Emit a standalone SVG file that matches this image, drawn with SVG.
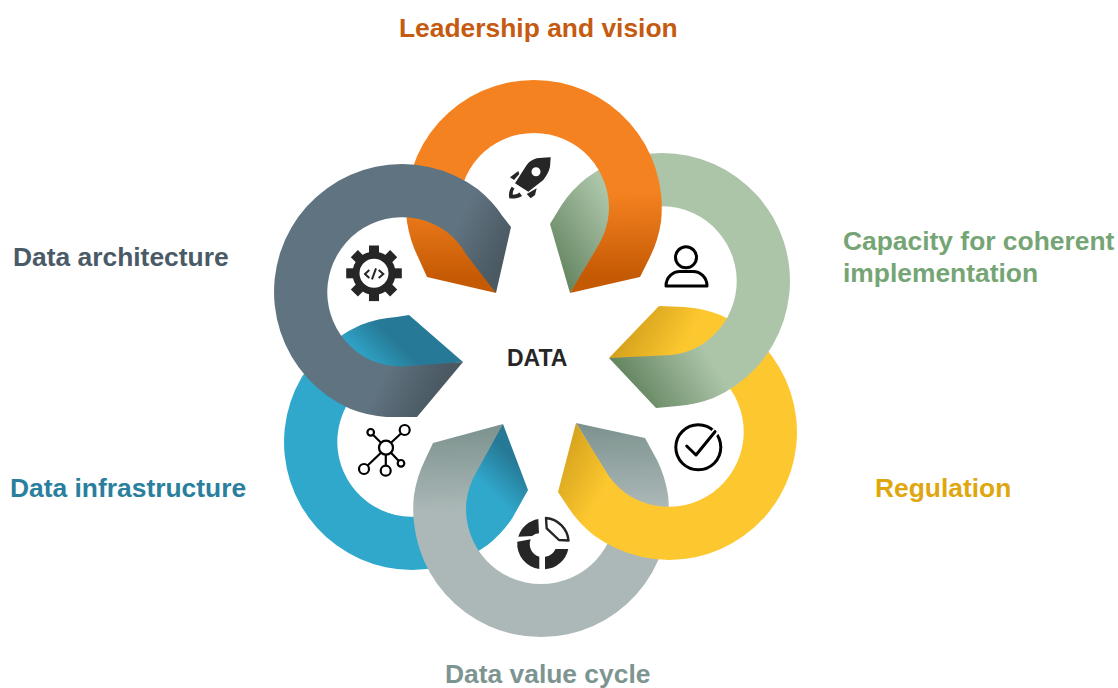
<svg xmlns="http://www.w3.org/2000/svg" width="1118" height="688" viewBox="0 0 1118 688">
<style>
text{font-family:"Liberation Sans",Arial,sans-serif;font-weight:700;font-size:26.4px}
.dk{fill:#262626}
.ln{fill:none;stroke:#000;stroke-width:2.2}
.ln2{fill:none;stroke:#000;stroke-width:3;stroke-linecap:round;stroke-linejoin:round}
</style>
<defs>
<linearGradient id="gO" gradientUnits="userSpaceOnUse" x1="534" y1="193" x2="535" y2="277"><stop offset="0" stop-color="#F58220"/><stop offset="1" stop-color="#C55A04"/></linearGradient>
<linearGradient id="gG" gradientUnits="userSpaceOnUse" x1="662" y1="281" x2="590" y2="326"><stop offset="0" stop-color="#ACC5A9"/><stop offset="1" stop-color="#648560"/></linearGradient>
<linearGradient id="gY" gradientUnits="userSpaceOnUse" x1="644.5" y1="418.5" x2="594.6" y2="391"><stop offset="0" stop-color="#FDC82F"/><stop offset="1" stop-color="#D6A31E"/></linearGradient>
<linearGradient id="gA" gradientUnits="userSpaceOnUse" x1="541" y1="509" x2="539" y2="424"><stop offset="0" stop-color="#ABB8B7"/><stop offset="1" stop-color="#7C928E"/></linearGradient>
<linearGradient id="gB" gradientUnits="userSpaceOnUse" x1="426" y1="428" x2="454" y2="400"><stop offset="0" stop-color="#30A8CC"/><stop offset="1" stop-color="#277A97"/></linearGradient>
<linearGradient id="gS" gradientUnits="userSpaceOnUse" x1="420" y1="301" x2="469.2" y2="325.4"><stop offset="0" stop-color="#607380"/><stop offset="1" stop-color="#4A5962"/></linearGradient>
</defs>
<g id="connectors"></g>
<g id="node-infrastructure">
<path fill="url(#gB)" d="M503,424 L528,490 L512.4,518 Q502.6,532.9 487.6,545 A127.8,127.8 0 1 1 360.6,325 Q378.6,318.1 396.4,317 L409,315 L463,362 L412.9,367.6 Q395.4,367.3 379.8,374.3 A74.95,74.95 0 1 0 454.6,503.7 Q462,492 470,470 Z"/>
<g class="ln"><circle cx="386" cy="447.7" r="7"/><circle cx="404.7" cy="430" r="5"/><circle cx="370.7" cy="432.3" r="3.3"/><circle cx="364" cy="469" r="5"/><circle cx="385.7" cy="470.7" r="5"/><circle cx="401" cy="463.3" r="3.3"/><path d="M391,442.7L401,433.5M381,442.7L373,434.8M381,452.7L367.6,465.5M385.8,454.7V465.7M391,452.7L398.6,460.8"/></g>
<text x="10" y="497" fill="#2A7F9E">Data infrastructure</text>
</g>
<g id="node-value-cycle">
<path fill="url(#gA)" d="M576,423 L645,438 L657,460 Q665,476 668,495 A127.8,127.8 0 1 1 414,495 Q417,476 425,460 L433,443 L503,424 L477,471 Q468,486 466.3,503 A74.95,74.95 0 1 0 615.7,503 Q614,486 605,471 Z"/>
<g fill="#262626"><path d="M538.3,519 A25.5,25.5 0 0 0 518.3,536.7 L532,536 A13,13 0 0 1 539,533.3 Z"/><path d="M517.3,541.7 L530.7,539.3 A13,13 0 0 0 539.3,556.7 L539.3,569 A25.5,25.5 0 0 1 517.3,541.7 Z"/><path d="M545,569.3 A25.5,25.5 0 0 0 568.3,549 L555.5,549 A13,13 0 0 1 545,556.7 Z"/></g>
<path fill="none" stroke="#262626" stroke-width="2.4" stroke-linejoin="round" d="M546,518 A25,25 0 0 1 568.5,540.5 L559,540 L546.7,528.3 Z"/>
<text x="445" y="682.5" fill="#7D9491">Data value cycle</text>
</g>
<g id="node-regulation">
<path fill="url(#gY)" d="M609,358 L659,306 L684.6,307 Q702.4,308.1 720.4,315 A127.8,127.8 0 1 1 593.4,535 Q578.4,522.9 568.6,508 L558,492 L576,423 L604.1,468.4 Q612.6,483.7 626.4,493.7 A74.95,74.95 0 1 0 701.2,364.3 Q685.6,357.3 668.1,357.6 Z"/>
<circle class="ln2" cx="698.3" cy="447.3" r="22.5"/>
<path fill="none" stroke="#fff" stroke-width="7" d="M696,455L716,431"/>
<path class="ln2" d="M686.7,446L696,455L715,431.7"/>
<text x="875" y="497" fill="#DEA70F">Regulation</text>
</g>
<g id="node-capacity">
<path fill="url(#gG)" d="M570,293 L550,224 L561.6,205 Q571.4,190.1 586.4,178 A127.8,127.8 0 1 1 713.4,398 Q695.4,404.9 677.6,406 L656,408 L609,358 L661.1,355.4 Q678.6,355.7 694.2,348.7 A74.95,74.95 0 1 0 619.4,219.3 Q609,232 602,246 Z"/>
<circle class="ln2" cx="686" cy="257.3" r="10.5"/>
<path class="ln2" d="M666,286C666,277 673,271.5 680,271.5H693C700,271.5 707,277 707,286Z"/>
<text x="843" y="249.5" fill="#75A574">Capacity for coherent</text>
<text x="843" y="281.5" fill="#75A574">implementation</text>
</g>
<g id="node-leadership">
<path fill="url(#gO)" d="M496,293 L427,277 L418,257 Q410,241 407,222 A127.8,127.8 0 1 1 661,222 Q658,241 650,257 L640,277 L570,293 L598,246 Q607,231 608.7,214 A74.95,74.95 0 1 0 459.3,214 Q461,231 470,246 Z"/>
<g fill="#262626"><path fill-rule="evenodd" d="M550.7,157.3C544,157.5 540,158 536.7,158.3C532,159.5 529,162 526.7,165L515,183.3L528.3,191.7L543.3,180C547,175 549,171 550,166.7ZM540.5,171.7a4.5,4.5 0 1 0 -9,0a4.5,4.5 0 1 0 9,0Z"/><path d="M510,177.3L518.3,171L519.3,174L514,180Z"/><path d="M526.7,194L536.7,188.3L535,195L530.7,198.3Z"/><path d="M511.7,186.7C509,190 508.5,195 509.3,198.3C513,199 518,198.3 522,196L519.5,192.5C517.5,194 515,194.7 512.8,194.7C512.6,193 513,190.5 514.5,188.5Z"/></g>
<text x="399" y="37" fill="#C55A11">Leadership and vision</text>
</g>
<g id="node-architecture">
<path fill="url(#gS)" d="M463,362 L417,417 L386.4,417 Q368.6,415.9 350.6,409 A127.8,127.8 0 1 1 477.6,189 Q492.6,201.1 502.4,216 L511,227 L496,293 L466.9,255.6 Q458.4,240.3 444.6,230.3 A74.95,74.95 0 1 0 369.8,359.7 Q385.4,366.7 402.9,366.4 Z"/>
<g fill="#262626"><rect x="369" y="245.5" width="10" height="12"/><rect x="369" y="245.5" width="10" height="12" transform="rotate(45 374 273.3)"/><rect x="369" y="245.5" width="10" height="12" transform="rotate(90 374 273.3)"/><rect x="369" y="245.5" width="10" height="12" transform="rotate(135 374 273.3)"/><rect x="369" y="245.5" width="10" height="12" transform="rotate(180 374 273.3)"/><rect x="369" y="245.5" width="10" height="12" transform="rotate(225 374 273.3)"/><rect x="369" y="245.5" width="10" height="12" transform="rotate(270 374 273.3)"/><rect x="369" y="245.5" width="10" height="12" transform="rotate(315 374 273.3)"/></g>
<circle cx="374" cy="273.3" r="18" fill="#fff" stroke="#262626" stroke-width="7"/>
<path fill="none" stroke="#262626" stroke-width="2" d="M369.3,270L365,274L369.3,278M376,268.3L372,279.3M378.7,270L383.3,274L378.7,278"/>
<text x="13" y="266" fill="#4A5A66">Data architecture</text>
</g>
<g id="node-data"><text x="507" y="366" class="dk" style="font-size:23px">DATA</text></g>
</svg>
